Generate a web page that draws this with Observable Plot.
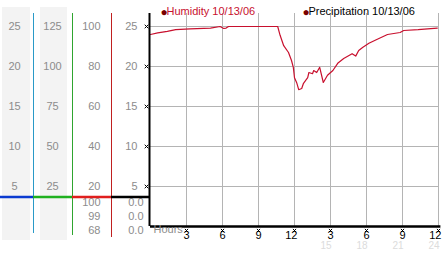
<!DOCTYPE html>
<html>
<head>
<meta charset="utf-8">
<script src="https://cdn.jsdelivr.net/npm/d3@7"></script>
<script src="https://cdn.jsdelivr.net/npm/@observablehq/plot@0.6"></script>
<style>
  html, body { margin: 0; padding: 0; background: #fff; }
  svg { display: block; }
</style>
</head>
<body>
<div id="chart"></div>
<script>
// ---- data ----
const hours = [0,0.6,1.4,2.1,3.3,5.0,5.8,6.1,6.3,6.5,10.6,10.8,11.1,11.5,11.75,11.9,12.0,12.2,12.35,12.6,12.75,13.1,13.2,13.5,13.6,13.85,14.1,14.4,14.75,15.2,15.6,16.1,16.8,17.1,17.35,17.7,18.2,18.9,19.75,20.8,21.1,22.3,23.9];
const humidity = [24.0,24.2,24.4,24.6,24.7,24.8,25.0,24.75,24.8,25.0,25.0,23.9,22.6,21.75,20.75,19.9,18.6,17.9,17.1,17.25,17.9,18.6,19.25,19.1,19.5,19.25,19.9,18.0,18.9,19.5,20.4,21.0,21.6,21.3,22.0,22.4,22.9,23.4,24.0,24.25,24.5,24.6,24.8];
const yTicks = [5,10,15,20,25];
const col2Labels = [25,50,75,100,125];
const col3Labels = [20,40,60,80,100];
const xTicks = [3,6,9,12,15,18,21,24];
const xTickLabels = ["3","6","9","12","3","6","9","12"];
const xFaintTicks = [15,18,21,24];
const xFaintLabels = ["15","18","21","24"];
const lowCol3 = ["100","99","68"];
const lowCol4 = ["0.0","0.0","0.0"];
const legendLabels = ["Humidity 10/13/06","Precipitation 10/13/06"];

const data = hours.map((h,i) => ({h, v: humidity[i]}));
const font = "Liberation Sans, Arial, sans-serif";
const gray = "#8c8c8c";

const lowMarks = [];
lowCol3.forEach((t,i) => lowMarks.push(Plot.text([t], {text: d=>d, frameAnchor:"bottom-left", dx:-50, dy:-21+14*i, textAnchor:"end", fill:gray, fontSize:11})));
lowCol4.forEach((t,i) => lowMarks.push(Plot.text([t], {text: d=>d, frameAnchor:"bottom-left", dx:-7, dy:-21+14*i, textAnchor:"end", fill:gray, fontSize:11})));

const chart = Plot.plot({
  width: 442, height: 253,
  marginLeft: 150, marginRight: 4, marginTop: 13, marginBottom: 27,
  style: {fontFamily: font, background: "transparent"},
  x: {domain: [0,24], axis: null},
  y: {domain: [0,26.625], axis: null},
  marks: [
    Plot.gridX(xTicks, {stroke:"#b4b4b4", strokeOpacity:1}),
    Plot.gridY(yTicks, {stroke:"#b4b4b4", strokeOpacity:1}),
    Plot.line(data, {x:"h", y:"v", stroke:"#c8102e", strokeWidth:1.2}),
    Plot.ruleX([0], {stroke:"#000", strokeWidth:2, dx:-1}),
    Plot.ruleY([0], {stroke:"#000", strokeWidth:2.5, x2: 24.2}),
    // left columns
    Plot.text(yTicks, {y:d=>d, text:d=>String(d), frameAnchor:"left", dx:-136, textAnchor:"middle", fill:gray, fontSize:11}),
    Plot.text(yTicks, {y:d=>d, text:(d,i)=>String(col2Labels[i]), frameAnchor:"left", dx:-98, textAnchor:"middle", fill:gray, fontSize:11}),
    Plot.text(yTicks, {y:d=>d, text:(d,i)=>String(col3Labels[i]), frameAnchor:"left", dx:-50, textAnchor:"end", fill:gray, fontSize:11}),
    Plot.text(yTicks, {y:d=>d, text:d=>String(d), frameAnchor:"left", dx:-13, textAnchor:"end", fill:gray, fontSize:11}),
    Plot.dot(yTicks, {y:d=>d, frameAnchor:"left", dx:-4, symbol:"times", r:1.8, stroke:"#000", strokeWidth:1}),
    ...lowMarks,
    // x axis labels
    Plot.dot(xTicks, {x:d=>d, frameAnchor:"bottom", dy:4, symbol:"times", r:1.6, stroke:"#000", strokeWidth:1}),
    Plot.text(xTicks, {x:d=>d, text:(d,i)=>xTickLabels[i], frameAnchor:"bottom", dx:3, dy:12, textAnchor:"end", fill:"#000", fontSize:11}),
    Plot.text(xFaintTicks, {x:d=>d, text:(d,i)=>xFaintLabels[i], frameAnchor:"bottom", dx:1, dy:22.5, textAnchor:"end", fill:"#dcdcdc", fontSize:10}),
    Plot.text(["Hours"], {text:d=>d, frameAnchor:"bottom-left", dx:3, dy:6.5, textAnchor:"start", fill:gray, fontSize:11}),
    // legend
    Plot.text(["●"], {text:d=>d, frameAnchor:"top-left", dx:10, dy:-6, fill:"#7a0000", fontSize:12}),
    Plot.text([legendLabels[0]], {text:d=>d, frameAnchor:"top-left", dx:16, dy:-6, textAnchor:"start", fill:"#c8102e", fontSize:11}),
    Plot.text(["●"], {text:d=>d, frameAnchor:"top-left", dx:152, dy:-6, fill:"#7a0000", fontSize:12}),
    Plot.text([legendLabels[1]], {text:d=>d, frameAnchor:"top-left", dx:158, dy:-6, textAnchor:"start", fill:"#000", fontSize:11})
  ]
});

// decorations in left panel
const svg = d3.select(chart);
const bg = svg.insert("g", ":first-child");
bg.append("rect").attr("x",2).attr("y",7).attr("width",28).attr("height",233).attr("fill","#f3f3f3");
bg.append("rect").attr("x",40).attr("y",7).attr("width",27).attr("height",233).attr("fill","#f3f3f3");
const deco = svg.append("g");
deco.append("line").attr("x1",33.5).attr("x2",33.5).attr("y1",13).attr("y2",233).attr("stroke","#2a9ac8").attr("stroke-width",1);
deco.append("line").attr("x1",72.5).attr("x2",72.5).attr("y1",13).attr("y2",235).attr("stroke","#2fa52f").attr("stroke-width",1);
deco.append("line").attr("x1",111.5).attr("x2",111.5).attr("y1",13).attr("y2",237).attr("stroke","#c02020").attr("stroke-width",1);
const segs = [[0,33,"#0a3ad0"],[33,72,"#1fb01f"],[72,111,"#e01e1e"],[111,150,"#000"]];
segs.forEach(([a,b,c]) => deco.append("line").attr("x1",a).attr("x2",b).attr("y1",197).attr("y2",197).attr("stroke",c).attr("stroke-width",2.5));

document.getElementById("chart").appendChild(chart);
</script>
</body>
</html>
